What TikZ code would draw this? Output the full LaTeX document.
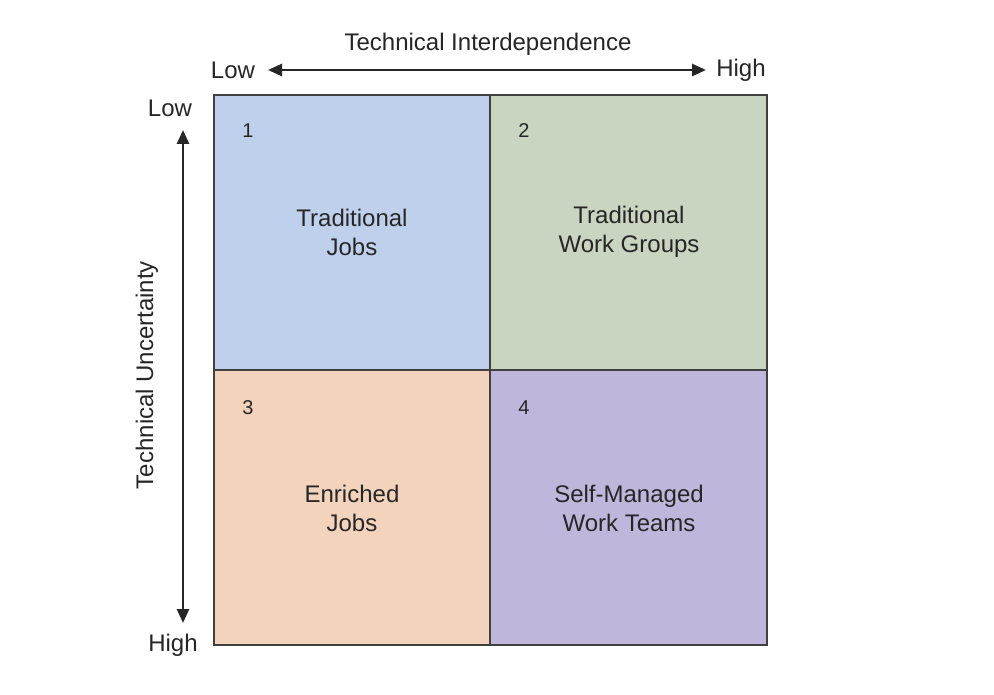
\documentclass[tikz,border=0pt]{standalone}
\usepackage{fontspec}
\setmainfont{Liberation Sans}
\usetikzlibrary{arrows.meta}
\definecolor{cb}{RGB}{191,208,236}
\definecolor{cg}{RGB}{201,213,192}
\definecolor{cp}{RGB}{243,211,188}
\definecolor{cv}{RGB}{191,183,219}
\begin{document}
\begin{tikzpicture}[x=1pt,y=-1pt,
  cell/.style={draw=black!75,line width=1.2pt},
  lab/.style={font=\fontsize{24}{29}\selectfont,text=black!85,align=center},
  num/.style={font=\fontsize{20}{24}\selectfont,text=black!85},
  axarrow/.style={{Triangle[length=14pt,width=12pt]}-{Triangle[length=14pt,width=12pt]},line width=2.5pt,black!85}]
\useasboundingbox (0,0) rectangle (994,695);
\fill[white] (0,0) rectangle (994,695);
\filldraw[cell,fill=cb] (214,95) rectangle (490,370);
\filldraw[cell,fill=cg] (490,95) rectangle (767,370);
\filldraw[cell,fill=cp] (214,370) rectangle (490,645);
\filldraw[cell,fill=cv] (490,370) rectangle (767,645);
\node[num] (n1) at (248,131) {1};
\node[num] (n2) at (524,131) {2};
\node[num] (n3) at (248,408) {3};
\node[num] (n4) at (524,408) {4};
\node[lab] (c1) at (352,232) {Traditional\\Jobs};
\node[lab] (c2) at (629,232) {Traditional\\Work Groups};
\node[lab] (c3) at (352,508) {Enriched\\Jobs};
\node[lab] (c4) at (629,508) {Self-Managed\\Work Teams};
\node[lab] (tt) at (488,44) {Technical Interdependence};
\node[lab] (tl) at (233,70) {Low};
\node[lab] (th) at (741,70) {High};
\coordinate (a1) at (268,70); \coordinate (a2) at (706,70);
\draw[axarrow] (a1) -- (a2);
\node[lab] (vl) at (170,108) {Low};
\node[lab] (vh) at (173,645) {High};
\coordinate (b1) at (183,130); \coordinate (b2) at (183,623);
\draw[axarrow] (b1) -- (b2);
\node[lab,rotate=90] (vt) at (147,375) {Technical Uncertainty};
\end{tikzpicture}
\end{document}
